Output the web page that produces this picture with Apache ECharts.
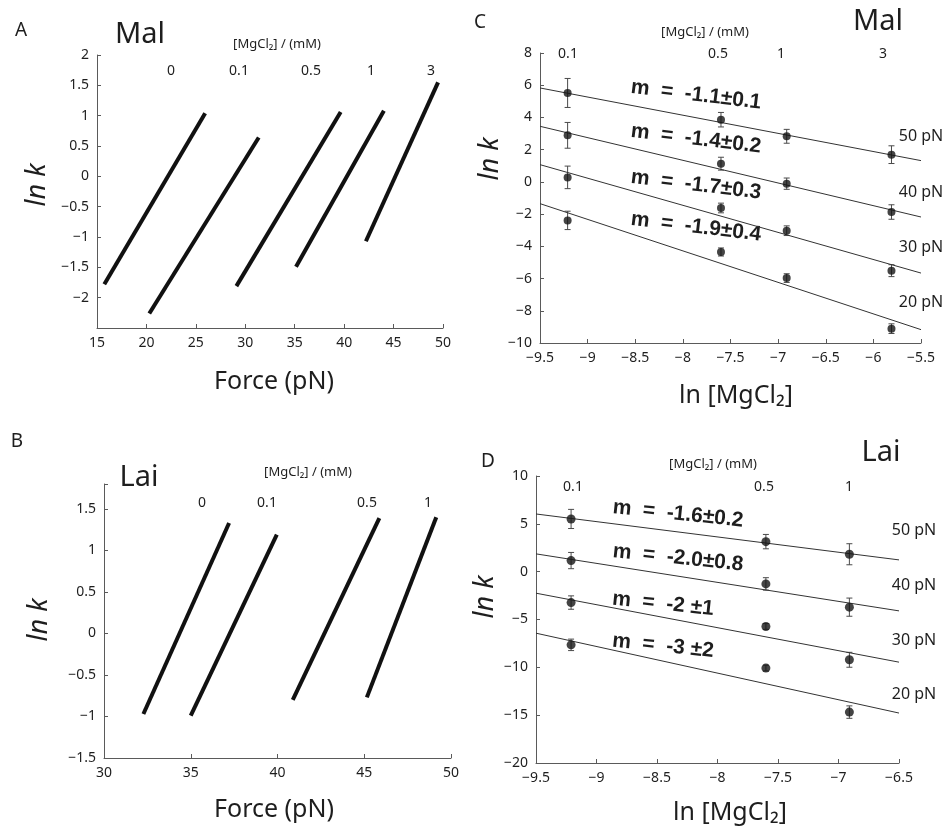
<!DOCTYPE html>
<html><head><meta charset="utf-8">
<script src="https://cdn.jsdelivr.net/npm/echarts@6/dist/echarts.min.js"></script>
<style>html,body{margin:0;padding:0;background:#fff}#c{width:952px;height:830px}</style>
</head><body><div id="c"></div><script>
// ---------- DATA ----------
// Panel A (Mal): ln k vs force, straight segments per [MgCl2] (mM)
const concA = ['0', '0.1', '0.5', '1', '3'];
const segA_0   = [[15.74, -1.78], [25.94, 1.04]];
const segA_01  = [[20.29, -2.26], [31.36, 0.64]];
const segA_05  = [[29.10, -1.81], [39.65, 1.06]];
const segA_1   = [[35.13, -1.49], [44.02, 1.08]];
const segA_3   = [[42.20, -1.07], [49.50, 1.55]];
// Panel B (Lai)
const concB = ['0', '0.1', '0.5', '1'];
const segB_0   = [[32.27, -0.97], [37.21, 1.33]];
const segB_01  = [[35.00, -0.99], [39.96, 1.19]];
const segB_05  = [[40.88, -0.80], [45.87, 1.39]];
const segB_1   = [[45.15, -0.77], [49.15, 1.40]];

// Panel C (Mal): ln k vs ln[MgCl2]
const lnMgC = [-9.21, -7.60, -6.91, -5.81];
const mgLabelsC = ['0.1', '0.5', '1', '3'];
const forces = ['50 pN', '40 pN', '30 pN', '20 pN'];
const C_50 = [5.52, 3.86, 2.83, 1.69];   const C_50err = [0.90, 0.45, 0.43, 0.55];
const C_40 = [2.89, 1.13, -0.11, -1.87]; const C_40err = [0.80, 0.40, 0.35, 0.45];
const C_30 = [0.28, -1.62, -3.03, -5.51]; const C_30err = [0.70, 0.30, 0.30, 0.37];
const C_20 = [-2.39, -4.35, -5.97, -9.11]; const C_20err = [0.57, 0.25, 0.27, 0.30];
const fitXC = [-9.5, -5.5];
const fitC_50 = [5.83, 1.32];
const fitC_40 = [3.45, -2.18];
const fitC_30 = [1.07, -5.66];
const fitC_20 = [-1.35, -9.17];
const slopesC = ['m = -1.1±0.1', 'm = -1.4±0.2', 'm = -1.7±0.3', 'm = -1.9±0.4'];

// Panel D (Lai)
const lnMgD = [-9.21, -7.60, -6.91];
const mgLabelsD = ['0.1', '0.5', '1'];
const D_50 = [5.51, 3.14, 1.82];    const D_50err = [1.00, 0.75, 1.10];
const D_40 = [1.16, -1.28, -3.71];  const D_40err = [0.85, 0.65, 0.95];
const D_30 = [-3.23, -5.73, -9.21]; const D_30err = [0.70, 0.30, 0.78];
const D_20 = [-7.65, -10.08, -14.68]; const D_20err = [0.60, 0.30, 0.65];
const fitXD = [-9.5, -6.5];
const fitD_50 = [6.03, 1.23];
const fitD_40 = [1.86, -4.10];
const fitD_30 = [-2.25, -9.46];
const fitD_20 = [-6.43, -14.78];
const slopesD = ['m = -1.6±0.2', 'm = -2.0±0.8', 'm = -2 ±1', 'm = -3 ±2'];

// ---------- CHART ----------
const FONT = "'Noto Sans', sans-serif";
const TXT = '#1e1e1e';
const AX = '#5a5a5a';
const minus = v => (v < 0 ? '\u2212' : '') + Math.abs(Math.round(v * 100) / 100);

function xAx(gi, min, max, interval) {
  return { type: 'value', gridIndex: gi, min, max, interval,
    axisLine: { show: true, onZero: false, lineStyle: { color: AX, width: 1 } },
    axisTick: { show: true, inside: true, length: 4, lineStyle: { color: AX } },
    splitLine: { show: false },
    axisLabel: { color: TXT, fontFamily: FONT, fontSize: 14, margin: 8, formatter: minus } };
}
function yAx(gi, min, max, interval, hide) {
  return { type: 'value', gridIndex: gi, min, max, interval,
    axisLine: { show: true, onZero: false, lineStyle: { color: AX, width: 1 } },
    axisTick: { show: true, inside: true, length: 4, lineStyle: { color: AX } },
    splitLine: { show: false },
    axisLabel: { color: TXT, fontFamily: FONT, fontSize: 14, margin: 8,
      formatter: v => (hide.some(h => Math.abs(h - v) < 1e-9) ? '' : minus(v)) } };
}

const series = [];
function seg(pts, gi) {
  series.push({ type: 'line', xAxisIndex: gi, yAxisIndex: gi, data: pts, showSymbol: false,
    symbol: 'none', silent: true, lineStyle: { color: '#111', width: 4, cap: 'butt' } });
}
[segA_0, segA_01, segA_05, segA_1, segA_3].forEach(s => seg(s, 0));
[segB_0, segB_01, segB_05, segB_1].forEach(s => seg(s, 2));

function errRender(params, api) {
  const x = api.value(0), y = api.value(1), e = api.value(2);
  const t = api.coord([x, y + e]), b = api.coord([x, y - e]);
  const w = 3;
  const st = { stroke: '#4a4a4a', lineWidth: 1 };
  return { type: 'group', children: [
    { type: 'line', shape: { x1: t[0], y1: t[1], x2: b[0], y2: b[1] }, style: st },
    { type: 'line', shape: { x1: t[0] - w, y1: t[1], x2: t[0] + w, y2: t[1] }, style: st },
    { type: 'line', shape: { x1: b[0] - w, y1: b[1], x2: b[0] + w, y2: b[1] }, style: st }
  ] };
}
function group(gi, xs, ys, errs, fitX, fitY, size) {
  series.push({ type: 'line', xAxisIndex: gi, yAxisIndex: gi, showSymbol: false, symbol: 'none', silent: true,
    data: fitX.map((x, i) => [x, fitY[i]]), lineStyle: { color: '#333', width: 1 } });
  series.push({ type: 'custom', xAxisIndex: gi, yAxisIndex: gi, silent: true,
    data: xs.map((x, i) => [x, ys[i], errs[i]]), renderItem: errRender, z: 3 });
  series.push({ type: 'scatter', xAxisIndex: gi, yAxisIndex: gi, silent: true, symbolSize: size,
    data: xs.map((x, i) => [x, ys[i]]), itemStyle: { color: '#151515' }, z: 4 });
}
group(1, lnMgC, C_50, C_50err, fitXC, fitC_50, 8);
group(1, lnMgC, C_40, C_40err, fitXC, fitC_40, 8);
group(1, lnMgC, C_30, C_30err, fitXC, fitC_30, 8);
group(1, lnMgC, C_20, C_20err, fitXC, fitC_20, 8);
group(3, lnMgD, D_50, D_50err, fitXD, fitD_50, 9);
group(3, lnMgD, D_40, D_40err, fitXD, fitD_40, 9);
group(3, lnMgD, D_30, D_30err, fitXD, fitD_30, 9);
group(3, lnMgD, D_20, D_20err, fitXD, fitD_20, 9);

// ---------- TEXT ANNOTATIONS ----------
const G = [];
function t(text, x, y, size, opts) {
  opts = opts || {};
  G.push({ type: 'text', x, y, rotation: opts.rot || 0, silent: true,
    style: { text, fill: TXT, font: (opts.style || '') + ' ' + (opts.weight || 'normal') + ' ' + size + 'px ' + (opts.family || FONT),
      align: opts.align || 'center', verticalAlign: 'middle' } });
}
const deg = Math.PI / 180;
const BOLD = "'Liberation Sans', Arial, sans-serif";
const wide = s => s.replace(' = ', '  =  ');
// Panel A
t('A', 21, 31, 19);
t('Mal', 140, 35, 29);
t('[MgCl\u2082] / (mM)', 277, 44, 13);
const concAX = [171, 239, 311, 371, 431];
concA.forEach((c, i) => t(c, concAX[i], 71, 14));
t('ln k', 37, 185, 27, { style: 'italic', rot: 90 * deg });
t('Force (pN)', 274, 382, 25);
// Panel C
t('C', 480, 23, 19);
t('Mal', 878, 22, 29);
t('[MgCl\u2082] / (mM)', 705, 32, 13);
const mgCX = [568, 718, 781, 883];
mgLabelsC.forEach((c, i) => t(c, mgCX[i], 54, 14));
t('ln k', 490, 159, 27, { style: 'italic', rot: 90 * deg });
t('ln [MgCl\u2082]', 736, 396, 25);
const fCY = [136, 192, 247, 302];
forces.forEach((f, i) => t(f, 921, fCY[i], 16));
const mCY = [95, 139, 185, 227];
slopesC.forEach((s, i) => t(wide(s), 696, mCY[i], 21, { weight: 'bold', family: BOLD, rot: -7 * deg }));
// Panel B
t('B', 17, 442, 19);
t('Lai', 139, 478, 29);
t('[MgCl\u2082] / (mM)', 308, 472, 13);
const concBX = [202, 267, 367, 428];
concB.forEach((c, i) => t(c, concBX[i], 503, 14));
t('ln k', 39, 620, 27, { style: 'italic', rot: 90 * deg });
t('Force (pN)', 274, 810, 25);
// Panel D
t('D', 488, 462, 19);
t('Lai', 881, 453, 29);
t('[MgCl\u2082] / (mM)', 713, 464, 13);
const mgDX = [573, 764, 849];
mgLabelsD.forEach((c, i) => t(c, mgDX[i], 487, 14));
t('ln k', 485, 597, 27, { style: 'italic', rot: 90 * deg });
t('ln [MgCl\u2082]', 730, 813, 25);
const fDY = [530, 585, 640, 694];
forces.forEach((f, i) => t(f, 914, fDY[i], 16));
const mDX = [678, 678, 663, 663];
const mDY = [514, 558, 604, 646];
slopesD.forEach((s, i) => t(wide(s), mDX[i], mDY[i], 21, { weight: 'bold', family: BOLD, rot: -6 * deg }));

const chart = echarts.init(document.getElementById('c'), null, { renderer: 'canvas' });
chart.setOption({
  animation: false,
  backgroundColor: '#fff',
  grid: [
    { left: 97, top: 55, width: 346, height: 273 },
    { left: 540, top: 53, width: 381, height: 290 },
    { left: 104, top: 484, width: 347, height: 274 },
    { left: 536, top: 476, width: 363, height: 287 }
  ],
  xAxis: [xAx(0, 15, 50, 5), xAx(1, -9.5, -5.5, 0.5), xAx(2, 30, 50, 5), xAx(3, -9.5, -6.5, 0.5)],
  yAxis: [yAx(0, -2.5, 2, 0.5, [-2.5]), yAx(1, -10, 8, 2, []), yAx(2, -1.5, 1.8, 0.5, [1.8]), yAx(3, -20, 10, 5, [])],
  series,
  graphic: G
});
</script></body></html>
